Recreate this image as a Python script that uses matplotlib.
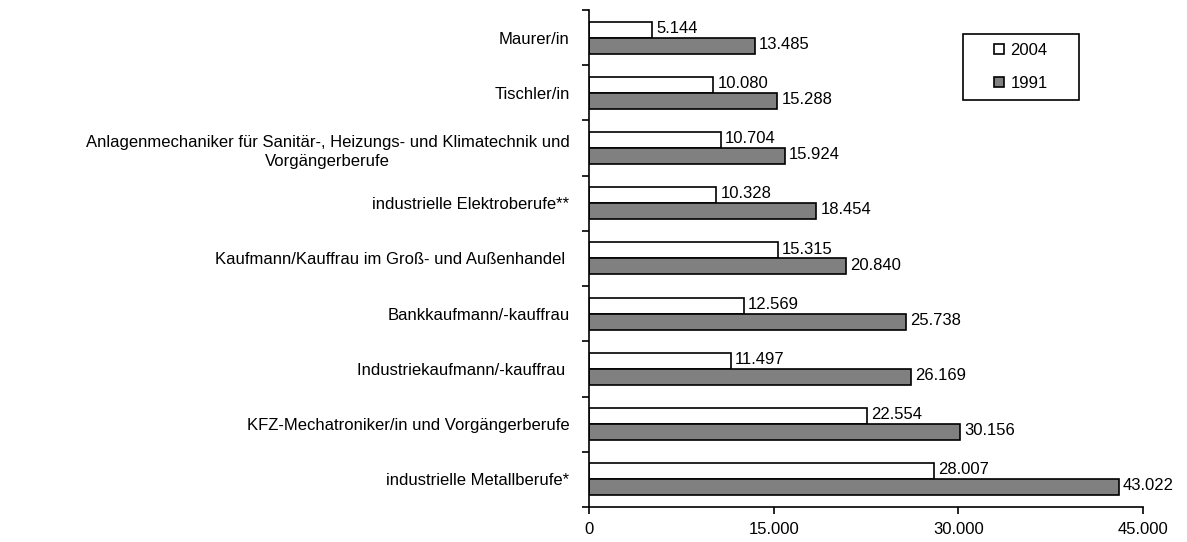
import matplotlib
matplotlib.use("Agg")
from matplotlib import pyplot as plt
from matplotlib.patches import Rectangle
import numpy as np

plt.rcParams["font.family"] = ["Liberation Sans", "DejaVu Sans"]

categories = [
    "Maurer/in",
    "Tischler/in",
    "Anlagenmechaniker für Sanitär-, Heizungs- und Klimatechnik und\nVorgängerberufe",
    "industrielle Elektroberufe**",
    "Kaufmann/Kauffrau im Groß- und Außenhandel ",
    "Bankkaufmann/-kauffrau",
    "Industriekaufmann/-kauffrau ",
    "KFZ-Mechatroniker/in und Vorgängerberufe",
    "industrielle Metallberufe*",
]
values_2004 = [5144, 10080, 10704, 10328, 15315, 12569, 11497, 22554, 28007]
values_1991 = [13485, 15288, 15924, 18454, 20840, 25738, 26169, 30156, 43022]
xticks = [0, 15000, 30000, 45000]

FS = 12


def fmt(v):
    return f"{v:,}".replace(",", ".")


fig = plt.figure(figsize=(11.87, 5.42), dpi=100)
ax = fig.add_axes([0.4962, 0.0646, 0.4668, 0.917])

n = len(categories)
y = np.arange(n)
h = 0.29
b1 = ax.barh(y - h / 2, values_2004, height=h, color="white", edgecolor="black",
             linewidth=1.2, label="2004")
b2 = ax.barh(y + h / 2, values_1991, height=h, color="#808080", edgecolor="black",
             linewidth=1.2, label="1991")

for bars, vals in ((b1, values_2004), (b2, values_1991)):
    for bar, v in zip(bars, vals):
        ax.annotate(fmt(v), (v, bar.get_y() + bar.get_height() / 2),
                    xytext=(3, 1), textcoords="offset points",
                    ha="left", va="center", fontsize=FS)

ax.set_ylim(n - 0.5, -0.5)
ax.set_xlim(0, 45000)
ax.set_yticks(y)
ax.set_yticklabels(categories, fontsize=FS, multialignment="center",
                   linespacing=1.35)
ax.tick_params(axis="y", length=0, pad=14)
ax.set_yticks(np.arange(n + 1) - 0.5, minor=True)
ax.tick_params(axis="y", which="minor", length=5, width=1.2)
ax.set_xticks(xticks)
ax.set_xticklabels([fmt(t) for t in xticks], fontsize=FS)
ax.tick_params(axis="x", length=5, width=1.2, pad=6)

for s in ("top", "right"):
    ax.spines[s].set_visible(False)
for s in ("left", "bottom"):
    ax.spines[s].set_linewidth(1.2)

# legend box drawn separately for the wide inner padding
ax.add_patch(Rectangle((0.675, 0.819), 0.209, 0.133, transform=ax.transAxes,
                       facecolor="white", edgecolor="black", linewidth=1.2,
                       clip_on=False, zorder=4))
leg = ax.legend(loc="center", bbox_to_anchor=(0.7795, 0.8855), fontsize=FS,
                frameon=False, handlelength=0.6, handleheight=0.6,
                labelspacing=1.1, handletextpad=0.4, borderpad=0)
leg.set_zorder(5)

fig.savefig("out.png", dpi=100)
